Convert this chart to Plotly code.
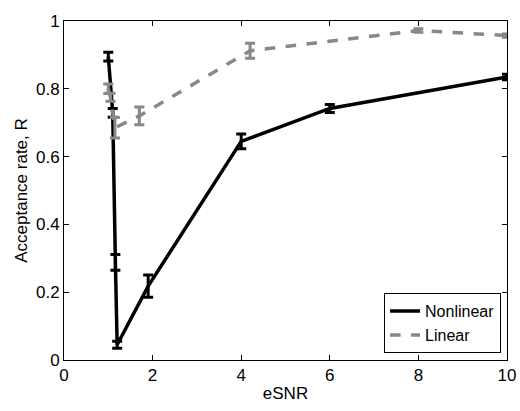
import plotly.graph_objects as go

# Nonlinear series
nl_x = [1.0, 1.1, 1.16, 1.2, 1.9, 4.0, 6.0, 10.0]
nl_y = [0.895, 0.729, 0.288, 0.045, 0.218, 0.645, 0.742, 0.835]
nl_err = [0.013, 0.013, 0.023, 0.01, 0.033, 0.022, 0.012, 0.008]

# Linear series
li_x = [1.0, 1.05, 1.15, 1.7, 4.2, 8.0, 10.0]
li_y = [0.80, 0.775, 0.685, 0.72, 0.912, 0.972, 0.957]
li_err = [0.014, 0.012, 0.03, 0.026, 0.022, 0.005, 0.005]

x_ticks = [0, 2, 4, 6, 8, 10]
y_ticks = [0, 0.2, 0.4, 0.6, 0.8, 1]

font = dict(family="Liberation Sans, Arial, Helvetica, sans-serif", size=17, color="black")

fig = go.Figure()
fig.add_trace(go.Scatter(
    x=nl_x, y=nl_y, mode="lines", name="Nonlinear",
    line=dict(color="black", width=3.5),
    error_y=dict(type="data", array=nl_err, visible=True, color="black", thickness=3, width=5),
))
fig.add_trace(go.Scatter(
    x=li_x, y=li_y, mode="lines", name="Linear",
    line=dict(color="#888888", width=3.5, dash="dash"),
    error_y=dict(type="data", array=li_err, visible=True, color="#888888", thickness=3, width=5),
))

axis_common = dict(
    showline=True, linecolor="black", linewidth=1, mirror="ticks",
    ticks="inside", ticklen=5, tickcolor="black", showgrid=False, zeroline=False,
    tickfont=font,
)
fig.update_xaxes(range=[0, 10], tickvals=x_ticks, ticktext=[str(v) for v in x_ticks],
                 title=dict(text="eSNR", font=font, standoff=2), **axis_common)
fig.update_yaxes(range=[0, 1], tickvals=y_ticks, ticktext=["0", "0.2", "0.4", "0.6", "0.8", "1"],
                 title=dict(text="Acceptance rate, R", font=font, standoff=4), **axis_common)

fig.update_layout(
    width=528, height=411,
    margin=dict(l=64, r=16, t=12, b=49),
    plot_bgcolor="white", paper_bgcolor="white",
    font=font,
    legend=dict(x=0.9866, y=0.02, xanchor="right", yanchor="bottom",
                bordercolor="black", borderwidth=1, bgcolor="white",
                font=dict(family=font["family"], size=16, color="black"),
                tracegroupgap=0, itemwidth=30),
)

fig.write_html("out.html", config={"displayModeBar": False},
               post_script="document.body.style.margin='0px';document.body.style.overflow='hidden';")
